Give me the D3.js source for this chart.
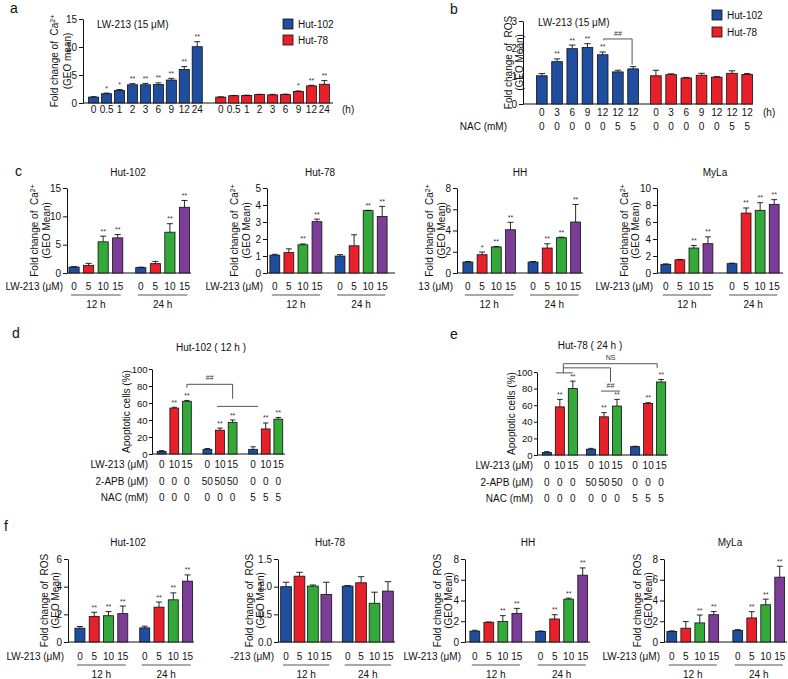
<!DOCTYPE html>
<html><head><meta charset="utf-8">
<script src="https://cdn.jsdelivr.net/npm/d3@7"></script>
<style>
body{margin:0;background:#fff;}
svg text{font-family:"Liberation Sans", Arial, Helvetica, sans-serif;}
</style></head>
<body><svg id="fig" width="788" height="679"></svg>
<script>
// ================= DATA =================
// Panel a
const aTimeLabels = ["0","0.5","1","2","3","6","9","12","24"];
const aHut102Mean = [1.05,1.65,2.25,3.25,3.25,3.3,4.1,6.0,10.05];
const aHut102Err  = [0.08,0.12,0.15,0.2,0.25,0.3,0.3,0.5,0.9];
const aHut102Sig  = ["","*","*","**","**","**","**","**","**"];
const aHut78Mean  = [1.05,1.3,1.35,1.5,1.45,1.5,2.05,3.05,3.35];
const aHut78Err   = [0.05,0.05,0.05,0.05,0.1,0.08,0.1,0.12,0.65];
const aHut78Sig   = ["","","","","","","*","**","**"];
const aTicks = [0,5,10,15];
// Panel b
const bTimeLabels = ["0","3","6","9","12","12","12"];
const bNACLabels  = ["0","0","0","0","0","5","5"];
const bHut102Mean = [1.02,1.53,2.0,2.04,1.78,1.16,1.27];
const bHut102Err  = [0.08,0.1,0.13,0.14,0.1,0.06,0.08];
const bHut102Sig  = ["","**","**","**","**","",""];
const bHut78Mean  = [1.02,1.06,0.94,1.04,0.97,1.11,1.07];
const bHut78Err   = [0.2,0.03,0.02,0.07,0.02,0.09,0.03];
const bHut78Sig   = ["","","","","","",""];
const bTicks = [0,1,2,3];
// Panel c / f shared
const doseLabels = ["0","5","10","15"];
const timeLabels = ["12 h","24 h"];
// Panel c
const cHut102Mean = [[1.05,1.35,5.5,6.2],[0.95,1.65,7.2,11.6]];
const cHut102Err  = [[0.08,0.35,1.0,0.6],[0.08,0.4,1.5,1.2]];
const cHut102Sig  = [["","","**","**"],["","","**","**"]];
const cHut78Mean  = [[1.05,1.2,1.66,3.02],[1.0,1.6,3.67,3.32]];
const cHut78Err   = [[0.05,0.22,0.05,0.15],[0.08,0.65,0.02,0.6]];
const cHut78Sig   = [["","","**","**"],["","","**","**"]];
const cHHMean     = [[1.03,1.72,2.45,4.07],[1.03,2.35,3.32,4.8]];
const cHHErr      = [[0.05,0.25,0.05,0.7],[0.05,0.4,0.05,1.65]];
const cHHSig      = [["","*","**","**"],["","**","**","**"]];
const cMyLaMean   = [[1.02,1.55,2.94,3.45],[1.1,7.05,7.37,8.08]];
const cMyLaErr    = [[0.05,0.05,0.3,0.8],[0.06,0.6,0.9,0.55]];
const cMyLaSig    = [["","","**","**"],["","**","**","**"]];
// Panel d / e
const deLW213Labels = ["0","10","15","0","10","15","0","10","15"];
const de2APBLabels  = ["0","0","0","50","50","50","0","0","0"];
const deNACLabels   = ["0","0","0","0","0","0","5","5","5"];
const dHut102Mean = [[3,54,62],[5.5,28,37],[5.5,29.5,41]];
const dHut102Err  = [[1,1,1],[1,2.5,3],[3,7,2]];
const dHut102Sig  = [["","**","**"],["","**","**"],["","**","**"]];
const eHut78Mean  = [[3,58,80],[7,46,59],[10,62,88]];
const eHut78Err   = [[1,9,9],[1,5,8],[0.5,1,3]];
const eHut78Sig   = [["","**","**"],["","**","**"],["","**","**"]];
const deTicks = [0,20,40,60,80,100];
// Panel f
const fHut102Mean = [[1.0,1.85,1.9,2.05],[1.02,2.52,3.05,4.4]];
const fHut102Err  = [[0.12,0.3,0.3,0.55],[0.12,0.37,0.5,0.45]];
const fHut102Sig  = [["","**","**","**"],["","**","**","**"]];
const fHut78Mean  = [[1.0,1.19,1.01,0.86],[1.01,1.07,0.7,0.92]];
const fHut78Err   = [[0.08,0.07,0.02,0.22],[0.01,0.11,0.2,0.17]];
const fHut78Sig   = [["","","",""],["","","",""]];
const fHHMean     = [[1.05,1.9,1.97,2.76],[1.02,2.22,4.13,6.44]];
const fHHErr      = [[0.08,0.03,0.57,0.48],[0.04,0.41,0.1,0.7]];
const fHHSig      = [["","","**","**"],["","**","**","**"]];
const fMyLaMean   = [[1.02,1.33,1.84,2.63],[1.11,2.32,3.59,6.25]];
const fMyLaErr    = [[0.05,0.64,0.76,0.3],[0.08,0.6,0.54,1.05]];
const fMyLaSig    = [["","","**","**"],["","**","**","**"]];

// ================= STYLE =================
const FONT = "'Liberation Sans', Arial, Helvetica, sans-serif";
const BLUE = "#1f4e9e", RED = "#e8202a", GREEN = "#33a93a", PURPLE = "#7c3d96";
const doseColors = [BLUE, RED, GREEN, PURPLE];
const INK = "#111";

const svg = d3.select("#fig");

function drawChart(L, D) {
  const g = svg.append("g");
  const y = d3.scaleLinear().domain([0, L.max]).range([L.y0, L.yTop]);
  const outer = d3.scaleBand().domain(d3.range(D.means.length)).range([L.r0, L.r1])
    .paddingInner(L.gPad).paddingOuter(0);
  const inner = d3.scaleBand().domain(d3.range(D.means[0].length)).range([0, outer.bandwidth()])
    .paddingInner(L.padI).paddingOuter(L.padO);
  const bw = inner.bandwidth();
  const cx = (gi, bi) => outer(gi) + inner(bi) + bw / 2;
  const flat = [];
  D.means.forEach((arr, gi) => arr.forEach((v, bi) => flat.push({
    gi, bi, v, e: D.errs[gi][bi], s: D.sigs[gi][bi], c: D.color(gi, bi), k: gi * arr.length + bi
  })));

  // y axis
  const ax = g.append("g").attr("transform", `translate(${L.axisX},0)`)
    .call(d3.axisLeft(y).tickValues(L.ticks).tickFormat(L.fmt || d3.format("d"))
      .tickSize(L.tickLen || 4).tickSizeOuter(0).tickPadding(L.tickPad || 2));
  ax.attr("font-family", FONT).attr("font-size", L.tickFont || 10);
  ax.selectAll("text").attr("fill", INK);
  ax.selectAll("line,path").attr("stroke", INK).attr("stroke-width", 1);
  // x axis baseline
  g.append("line").attr("x1", L.axisX).attr("x2", L.axisEnd)
    .attr("y1", L.y0).attr("y2", L.y0).attr("stroke", INK).attr("stroke-width", 1);

  // bars
  g.selectAll("rect.bar").data(flat).join("rect").attr("class", "bar")
    .attr("x", d => outer(d.gi) + inner(d.bi)).attr("width", bw)
    .attr("y", d => y(d.v)).attr("height", d => L.y0 - y(d.v))
    .attr("fill", d => d.c).attr("stroke", INK).attr("stroke-width", 0.8);
  // error bars
  const capW = bw * 0.3;
  g.selectAll("line.err").data(flat).join("line").attr("class", "err")
    .attr("x1", d => cx(d.gi, d.bi)).attr("x2", d => cx(d.gi, d.bi))
    .attr("y1", d => y(d.v)).attr("y2", d => y(d.v + d.e))
    .attr("stroke", INK).attr("stroke-width", 0.9);
  g.selectAll("line.cap").data(flat).join("line").attr("class", "cap")
    .attr("x1", d => cx(d.gi, d.bi) - capW).attr("x2", d => cx(d.gi, d.bi) + capW)
    .attr("y1", d => y(d.v + d.e)).attr("y2", d => y(d.v + d.e))
    .attr("stroke", INK).attr("stroke-width", 0.9);
  // significance stars
  g.selectAll("text.sig").data(flat.filter(d => d.s)).join("text").attr("class", "sig")
    .attr("x", d => cx(d.gi, d.bi)).attr("y", d => y(d.v + d.e) - 2.5)
    .attr("text-anchor", "middle").attr("font-size", 7).attr("fill", "#333")
    .text(d => d.s);

  // label rows under bars
  (D.rows || []).forEach(r => {
    g.selectAll(null).data(flat).join("text")
      .attr("x", d => cx(d.gi, d.bi)).attr("y", L.y0 + r.dy)
      .attr("text-anchor", "middle").attr("font-size", 10).attr("fill", INK)
      .text(d => r.values[d.k]);
    if (r.label) g.append("text").attr("x", L.axisX - (r.lx || 4)).attr("y", L.y0 + r.dy)
      .attr("text-anchor", "end").attr("font-size", 10).attr("fill", INK).text(r.label);
    if (r.suffix) g.append("text").attr("x", L.axisEnd + r.sx).attr("y", L.y0 + r.dy)
      .attr("font-size", 10).attr("fill", INK).text(r.suffix);
  });
  // group labels with underline
  if (D.groupLabels) {
    const n = D.means[0].length;
    D.groupLabels.forEach((t, gi) => {
      const xa = cx(gi, 0) - 3, xb = cx(gi, n - 1) + 3;
      g.append("line").attr("x1", xa).attr("x2", xb).attr("y1", L.y0 + L.lineDy).attr("y2", L.y0 + L.lineDy)
        .attr("stroke", "#555").attr("stroke-width", 1);
      g.append("text").attr("x", (xa + xb) / 2).attr("y", L.y0 + L.groupDy)
        .attr("text-anchor", "middle").attr("font-size", 10).attr("fill", INK).text(t);
    });
  }
  // y title (rotated)
  const cy = (L.y0 + L.yTop) / 2 + (L.titleShift || 0);
  D.yTitle.forEach((line, i) => {
    const t = g.append("text").attr("transform", `translate(${L.ytx[i]},${cy}) rotate(-90)`)
      .attr("text-anchor", "middle").attr("dy", "0.35em").attr("font-size", 10).attr("fill", INK)
      .style("white-space", "pre");
    line.forEach(seg => {
      const s = t.append("tspan").text(seg.t);
      if (seg.sup) s.attr("baseline-shift", "super").attr("font-size", 7);
    });
  });
  // chart title
  if (D.title) g.append("text").attr("x", L.tx).attr("y", L.ty)
    .attr("text-anchor", L.tAnchor || "middle").attr("font-size", 10).attr("fill", INK).text(D.title);

  return { g, y, cx, bw };
}

function bracketPath(g, pts) {
  g.append("path").attr("d", d3.line()(pts)).attr("fill", "none")
    .attr("stroke", "#555").attr("stroke-width", 1);
}
function smallText(g, x, yy, t) {
  g.append("text").attr("x", x).attr("y", yy).attr("text-anchor", "middle")
    .attr("font-size", 7).attr("fill", "#333").text(t);
}
function panelLetter(x, yy, t) {
  svg.append("text").attr("x", x).attr("y", yy).attr("font-size", 14).attr("fill", INK).text(t);
}
function legend(x, yy, items, gap) {
  items.forEach((it, i) => {
    svg.append("rect").attr("x", x).attr("y", yy + i * gap).attr("width", 10).attr("height", 10)
      .attr("fill", it.c).attr("stroke", INK).attr("stroke-width", 0.8);
    svg.append("text").attr("x", x + 15).attr("y", yy + i * gap + 9).attr("font-size", 10)
      .attr("fill", INK).text(it.t);
  });
}

const caTitle = [[{t: "Fold change of  Ca"}, {t: "2+", sup: true}], [{t: "(GEO Mean)"}]];
const rosTitle = [[{t: "Fold change of  ROS"}], [{t: "(GEO Mean)"}]];

// ================= PANEL A =================
panelLetter(10, 13, "a");
drawChart(
  {axisX: 83, axisEnd: 333, y0: 103, yTop: 19, max: 15, ticks: aTicks,
   r0: 86, r1: 332, gPad: 0.065, padI: 0.22, padO: 0.2, ytx: [54, 67], tx: 97, ty: 28, tAnchor: "start"},
  {means: [aHut102Mean, aHut78Mean], errs: [aHut102Err, aHut78Err], sigs: [aHut102Sig, aHut78Sig],
   color: gi => gi === 0 ? BLUE : RED,
   rows: [{dy: 10, values: aTimeLabels.concat(aTimeLabels), suffix: "(h)", sx: 9}],
   yTitle: [[{t: "Fold change of  Ca"}, {t: "2+", sup: true}], [{t: "(GEO mean)"}]],
   title: "LW-213 (15 μM)"});
legend(283, 19, [{c: BLUE, t: "Hut-102"}, {c: RED, t: "Hut-78"}], 16);

// ================= PANEL B =================
panelLetter(450, 14, "b");
const B = drawChart(
  {axisX: 523, axisEnd: 753, y0: 104, yTop: 21, max: 3, ticks: bTicks,
   r0: 535, r1: 754, gPad: 0.08, padI: 0.3, padO: 0.1, ytx: [508, 519], tx: 538, ty: 26, tAnchor: "start"},
  {means: [bHut102Mean, bHut78Mean], errs: [bHut102Err, bHut78Err], sigs: [bHut102Sig, bHut78Sig],
   color: gi => gi === 0 ? BLUE : RED,
   rows: [{dy: 12, values: bTimeLabels.concat(bTimeLabels), suffix: "(h)", sx: 10},
          {dy: 26, values: bNACLabels.concat(bNACLabels), label: "NAC (mM)", lx: 16}],
   yTitle: rosTitle, title: "LW-213 (15 μM)"});
{
  const x1 = B.cx(0, 4) + 1, x2 = B.cx(0, 6) - 1, yl = B.y(2.35);
  bracketPath(B.g, [[x1, B.y(2.3)], [x1, yl], [x2, yl], [x2, B.y(1.42)]]);
  smallText(B.g, (x1 + x2) / 2, yl - 3, "##");
}
legend(712, 10, [{c: BLUE, t: "Hut-102"}, {c: RED, t: "Hut-78"}], 17);

// ================= PANEL C =================
panelLetter(15, 176, "c");
const cRowsFor = lbl => [{dy: 17, values: doseLabels.concat(doseLabels), label: lbl}];
const cBase = {y0: 273, yTop: 188, padI: 0.3, padO: 0.1, lineDy: 22, groupDy: 35, ty: 176};
drawChart(Object.assign({}, cBase, {axisX: 67, axisEnd: 191, max: 15, ticks: [0,5,10,15],
   r0: 67.5, r1: 191, gPad: 0.15, ytx: [34, 46], tx: 128}),
  {means: cHut102Mean, errs: cHut102Err, sigs: cHut102Sig, color: (gi, bi) => doseColors[bi],
   rows: cRowsFor("LW-213 (μM)"), groupLabels: timeLabels, yTitle: caTitle, title: "Hut-102"});
drawChart(Object.assign({}, cBase, {axisX: 267, axisEnd: 395, max: 5, ticks: [0,1,2,3,4,5],
   r0: 268.5, r1: 388.5, gPad: 0.16, ytx: [234, 246], tx: 320}),
  {means: cHut78Mean, errs: cHut78Err, sigs: cHut78Sig, color: (gi, bi) => doseColors[bi],
   rows: cRowsFor("LW-213 (μM)"), groupLabels: timeLabels, yTitle: caTitle, title: "Hut-78"});
drawChart(Object.assign({}, cBase, {axisX: 457, axisEnd: 583, max: 8, ticks: [0,2,4,6,8],
   r0: 461.5, r1: 582, gPad: 0.15, ytx: [429, 441], tx: 520}),
  {means: cHHMean, errs: cHHErr, sigs: cHHSig, color: (gi, bi) => doseColors[bi],
   rows: cRowsFor("13 (μM)"), groupLabels: timeLabels, yTitle: caTitle, title: "HH"});
drawChart(Object.assign({}, cBase, {axisX: 657, axisEnd: 783, max: 10, ticks: [0,2,4,6,8,10],
   r0: 659.5, r1: 780.5, gPad: 0.173, ytx: [624, 635], tx: 715}),
  {means: cMyLaMean, errs: cMyLaErr, sigs: cMyLaSig, color: (gi, bi) => doseColors[bi],
   rows: cRowsFor("LW-213 (μM)"), groupLabels: timeLabels, yTitle: caTitle, title: "MyLa"});

// ================= PANEL D =================
panelLetter(12, 338, "d");
const deRows = (d1, d2, d3) => [
  {dy: d1, values: deLW213Labels, label: "LW-213 (μM)"},
  {dy: d2, values: de2APBLabels, label: "2-APB (μM)"},
  {dy: d3, values: deNACLabels, label: "NAC (mM)"}];
const deColors = (gi, bi) => [BLUE, RED, GREEN][bi];
const Dd = drawChart(
  {axisX: 152, axisEnd: 285, y0: 454, yTop: 369, max: 100, ticks: deTicks,
   tickLen: 3, tickPad: 1.5, tickFont: 9.5,
   r0: 156, r1: 284, gPad: 0.2, padI: 0.3, padO: 0.1, ytx: [126], tx: 211, ty: 351},
  {means: dHut102Mean, errs: dHut102Err, sigs: dHut102Sig, color: deColors,
   rows: deRows(14, 31, 47), yTitle: [[{t: "Apoptotic cells (%)"}]], title: "Hut-102 ( 12 h )"});
{
  const xa = Dd.cx(0, 2), xb = Dd.cx(1, 2), yl = Dd.y(82);
  bracketPath(Dd.g, [[xa, Dd.y(78)], [xa, yl], [xb, yl], [xb, Dd.y(65)]]);
  bracketPath(Dd.g, [[Dd.cx(1, 1) - 3, Dd.y(56)], [Dd.cx(2, 0) + 5, Dd.y(56)]]);
  smallText(Dd.g, (xa + xb) / 2, yl - 4, "##");
}

// ================= PANEL E =================
panelLetter(450, 339, "e");
const E = drawChart(
  {axisX: 537, axisEnd: 668, y0: 455, yTop: 372, max: 100, ticks: deTicks,
   tickLen: 3, tickPad: 1.5, tickFont: 9.5,
   r0: 541, r1: 667, gPad: 0.146, padI: 0.3, padO: 0.1, ytx: [511], tx: 590, ty: 349},
  {means: eHut78Mean, errs: eHut78Err, sigs: eHut78Sig, color: deColors,
   rows: deRows(14, 31, 47), yTitle: [[{t: "Apoptotic cells (%)"}]], title: "Hut-78 ( 24 h )"});
{
  const xm = (E.cx(0, 1) + E.cx(0, 2)) / 2 - 3;
  const xr = E.cx(2, 2) - 4;
  const xn = (E.cx(1, 1) + E.cx(1, 2)) / 2;
  bracketPath(E.g, [[E.cx(0, 1) - 4, E.y(99)], [E.cx(0, 2), E.y(99)]]);
  bracketPath(E.g, [[xm, E.y(99)], [xm, E.y(110)], [xr, E.y(110)], [xr, E.y(105)]]);
  bracketPath(E.g, [[xm, E.y(105)], [xn, E.y(105)], [xn, E.y(88)]]);
  smallText(E.g, xn, E.y(110) - 4, "NS");
  bracketPath(E.g, [[E.cx(1, 1) - 3, E.y(77)], [E.cx(1, 2) + 3, E.y(77)]]);
  smallText(E.g, xn, E.y(77) - 3, "##");
}

// ================= PANEL F =================
panelLetter(4, 531, "f");
const fRowsFor = lbl => [{dy: 18, values: doseLabels.concat(doseLabels), label: lbl}];
const fBase = {y0: 642, yTop: 559, padI: 0.3, padO: 0.1, lineDy: 23, groupDy: 36, ty: 546};
drawChart(Object.assign({}, fBase, {axisX: 68, axisEnd: 194, max: 6, ticks: [0,2,4,6],
   r0: 73.5, r1: 194, gPad: 0.14, ytx: [44, 55], tx: 128}),
  {means: fHut102Mean, errs: fHut102Err, sigs: fHut102Sig, color: (gi, bi) => doseColors[bi],
   rows: fRowsFor("LW-213 (μM)"), groupLabels: timeLabels, yTitle: rosTitle, title: "Hut-102"});
drawChart(Object.assign({}, fBase, {axisX: 278, axisEnd: 395, max: 1.5, ticks: [0,0.5,1,1.5],
   fmt: d3.format(".1f"), r0: 280, r1: 394, gPad: 0.15, padI: 0.2, padO: 0.05, ytx: [249, 260], tx: 330}),
  {means: fHut78Mean, errs: fHut78Err, sigs: fHut78Sig, color: (gi, bi) => doseColors[bi],
   rows: fRowsFor("-213 (μM)"), groupLabels: timeLabels, yTitle: rosTitle, title: "Hut-78"});
drawChart(Object.assign({}, fBase, {axisX: 465, axisEnd: 590, max: 8, ticks: [0,2,4,6,8],
   r0: 468.5, r1: 589, gPad: 0.17, ytx: [437, 448], tx: 528}),
  {means: fHHMean, errs: fHHErr, sigs: fHHSig, color: (gi, bi) => doseColors[bi],
   rows: fRowsFor("LW-213 (μM)"), groupLabels: timeLabels, yTitle: rosTitle, title: "HH"});
drawChart(Object.assign({}, fBase, {axisX: 664, axisEnd: 787, max: 8, ticks: [0,2,4,6,8],
   r0: 665.5, r1: 786, gPad: 0.173, ytx: [637, 648], tx: 730}),
  {means: fMyLaMean, errs: fMyLaErr, sigs: fMyLaSig, color: (gi, bi) => doseColors[bi],
   rows: fRowsFor("LW-213 (μM)"), groupLabels: timeLabels, yTitle: rosTitle, title: "MyLa"});
</script>
</body></html>
